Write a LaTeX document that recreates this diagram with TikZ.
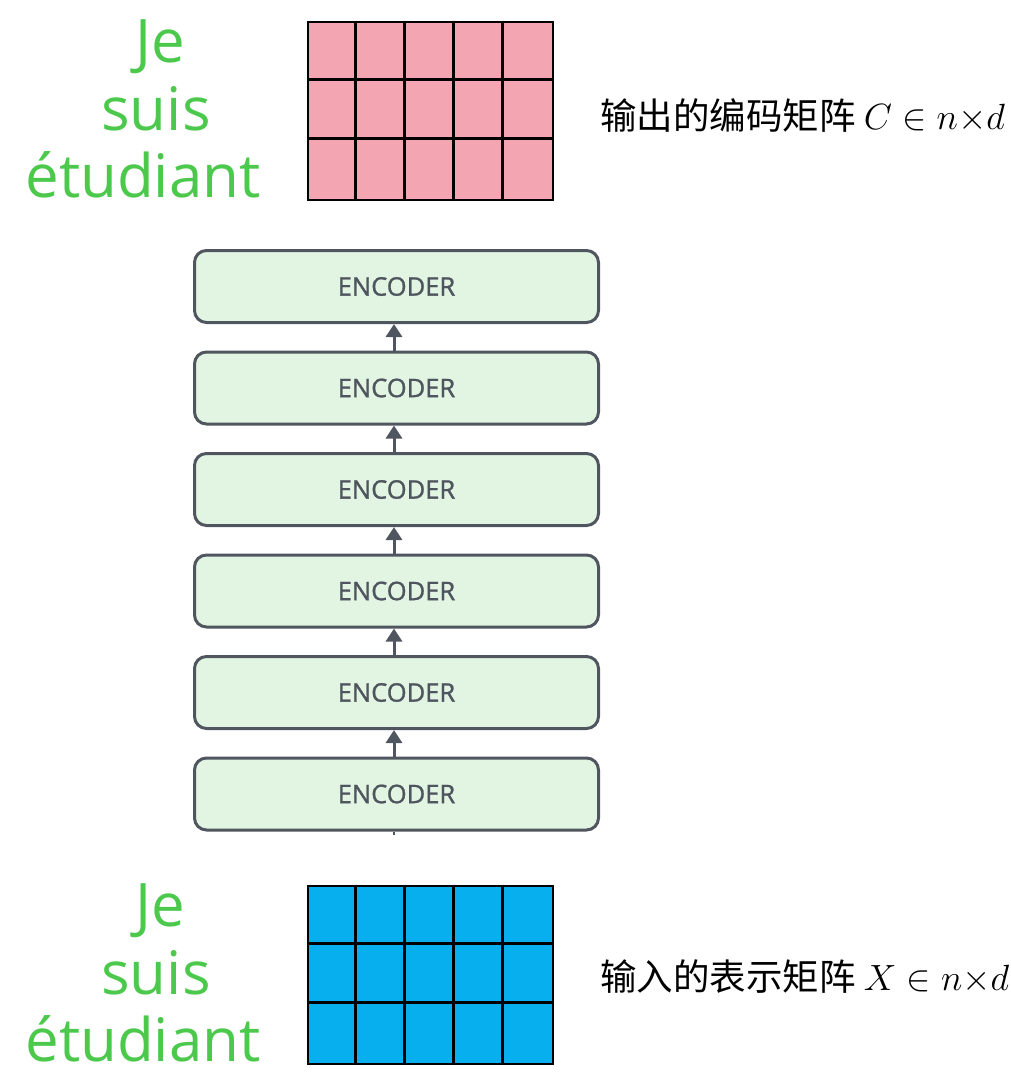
\RequirePackage{fix-cm}
\documentclass[tikz,border=0pt]{standalone}
\usepackage{fontspec}
\setmainfont{Open Sans}
\newfontfamily\cjk{Noto Sans CJK SC}
\newfontfamily\encfont{Open Sans}[FakeBold=1.2]
\usetikzlibrary{arrows.meta}
\definecolor{wordgreen}{HTML}{4CC94C}
\definecolor{encfill}{HTML}{E2F5E2}
\definecolor{encline}{HTML}{505660}
\definecolor{enctext}{HTML}{4F555E}
\definecolor{outpink}{HTML}{F3A6B2}
\definecolor{inblue}{HTML}{08AFEE}
\tikzset{
  word/.style={text=wordgreen, font=\fontsize{60}{67}\selectfont, anchor=base, inner sep=0pt},
  encbox/.style={draw=encline, line width=3pt, fill=encfill, rounded corners=12pt,
    minimum width=404pt, minimum height=72pt, inner sep=0pt,
    text=enctext, font=\encfont\fontsize{25.5}{28}\selectfont},
  uparrow/.style={draw=encline, line width=3pt, -{Triangle[width=16pt,length=13pt]}},
  label/.style={font=\cjk\fontsize{36.5}{40}\selectfont, anchor=west, inner sep=0pt, text=black},
  matbox/.style={draw=black, line width=2.7pt, minimum width=245pt, minimum height=178pt, inner sep=0pt},
  gridline/.style={line width=2.7pt}
}
\begin{document}
\begin{tikzpicture}[x=1pt,y=-1pt]
\useasboundingbox (0,0) rectangle (1010,1076);

% top words
\node[word] (tje) at (160,62) {Je};
\node[word] (tsuis) at (156,130) {suis};
\node[word] (tetud) at (143,197) {étudiant};

% bottom words
\node[word] (bje) at (160,926) {Je};
\node[word] (bsuis) at (156,994) {suis};
\node[word] (betud) at (143,1061) {étudiant};

% output matrix
\node[matbox, fill=outpink] (outm) at (430.5,111) {};
\foreach \i in {1,...,4} \draw[gridline] ([xshift=\i*49pt]outm.north west) -- ([xshift=\i*49pt]outm.south west);
\foreach \j in {1,2} \draw[gridline] ([yshift=-\j*59pt]outm.north west) -- ([yshift=-\j*59pt]outm.north east);

% input matrix
\node[matbox, fill=inblue] (inm) at (430.5,975) {};
\foreach \i in {1,...,4} \draw[gridline] ([xshift=\i*49pt]inm.north west) -- ([xshift=\i*49pt]inm.south west);
\foreach \j in {1,2} \draw[gridline] ([yshift=-\j*59pt]inm.north west) -- ([yshift=-\j*59pt]inm.north east);

% labels
\node[label] (outl) at (600,116) {输出的编码矩阵\ $C \in n{\times}d$};
\node[label] (inl) at (600,977) {输入的表示矩阵\ $X \in n{\times}d$};

% encoders
\node[encbox] (e6) at (396.5,286.5) {ENCODER};
\node[encbox] (e5) at (396.5,388) {ENCODER};
\node[encbox] (e4) at (396.5,489.5) {ENCODER};
\node[encbox] (e3) at (396.5,591) {ENCODER};
\node[encbox] (e2) at (396.5,692.5) {ENCODER};
\node[encbox] (e1) at (396.5,794) {ENCODER};

\foreach \a/\b in {e1/e2,e2/e3,e3/e4,e4/e5,e5/e6}
  \draw[uparrow] ([xshift=-2.5pt]\a.north) -- ([xshift=-2.5pt]\b.south);

\coordinate (stub) at (394,835);
\draw[encline, line width=2pt] (stub) -- ([xshift=-2.5pt]e1.south);
\end{tikzpicture}
\end{document}
